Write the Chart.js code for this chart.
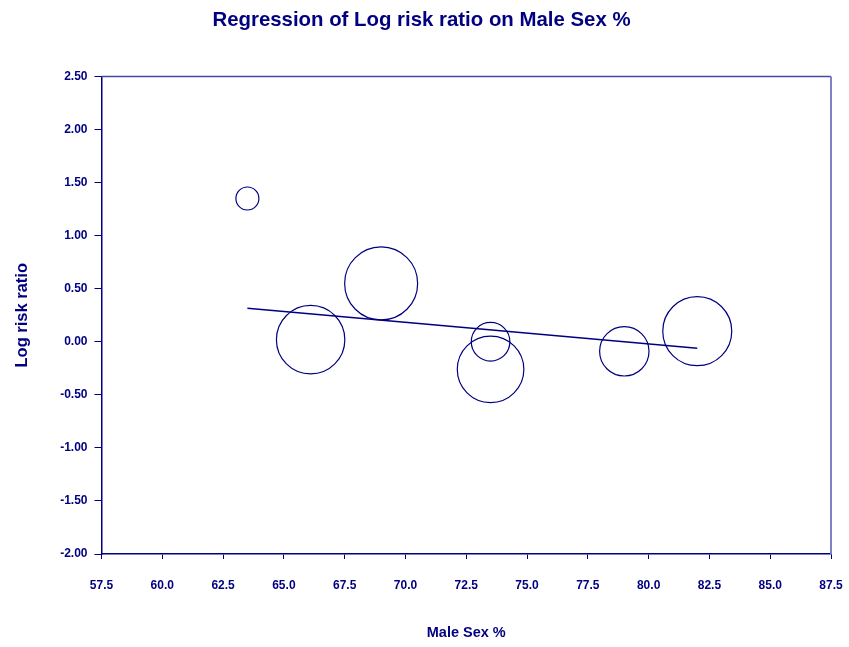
<!DOCTYPE html>
<html>
<head>
<meta charset="utf-8">
<script src="https://cdn.jsdelivr.net/npm/chart.js@4"></script>
<style>
  html, body { margin: 0; padding: 0; background: #ffffff; }
  #wrap { width: 849px; height: 647px; }
</style>
</head>
<body>
<div id="wrap"><canvas id="meta-chart" width="849" height="647"></canvas></div>
<script>
const maleSexPct = [63.5, 66.1, 69.0, 73.5, 73.5, 79.0, 82.0];
const logRiskRatio = [1.35, 0.02, 0.55, 0.0, -0.26, -0.09, 0.10];
const bubbleRadius = [11.5, 34.2, 36.5, 19.3, 33.3, 24.7, 34.5];

const fitX = [63.5, 82.0];
const fitY = [0.315, -0.061];

const navy = '#000080';
const fontFamily = 'Arial, "Liberation Sans", sans-serif';

const frameLines = {
  id: 'frameLines',
  afterDraw(chart) {
    const { ctx, chartArea: a } = chart;
    ctx.save();
    ctx.lineWidth = 1.5;
    ctx.strokeStyle = '#4848a0';
    ctx.beginPath();
    ctx.moveTo(a.left, a.top);
    ctx.lineTo(a.right, a.top);
    ctx.stroke();
    ctx.strokeStyle = '#8080c4';
    ctx.lineWidth = 2;
    ctx.beginPath();
    ctx.moveTo(a.right, a.top);
    ctx.lineTo(a.right, a.bottom);
    ctx.stroke();
    ctx.restore();
  },
};

const bubbles = maleSexPct.map((x, i) => ({ x, y: logRiskRatio[i], r: bubbleRadius[i] }));
const fitLine = fitX.map((x, i) => ({ x, y: fitY[i] }));

new Chart(document.getElementById('meta-chart'), {
  type: 'bubble',
  data: {
    datasets: [
      {
        type: 'line',
        data: fitLine,
        borderColor: navy,
        borderWidth: 1.5,
        pointRadius: 0,
        fill: false,
        tension: 0,
      },
      {
        data: bubbles,
        borderColor: navy,
        borderWidth: 1.2,
        backgroundColor: 'rgba(0,0,0,0)',
      },
    ],
  },
  options: {
    responsive: false,
    animation: false,
    layout: { autoPadding: false, padding: { left: 12, right: 18, top: 0, bottom: 0 } },
    plugins: {
      legend: { display: false },
      tooltip: { enabled: false },
      title: {
        display: true,
        text: 'Regression of Log risk ratio on Male Sex %',
        color: navy,
        font: { family: fontFamily, size: 20.4, weight: 'bold' },
        padding: { top: 8, bottom: 44 },
      },
    },
    scales: {
      x: {
        type: 'linear',
        min: 57.5,
        max: 87.5,
        afterFit: (scale) => {
          scale.height = 93;
          scale.paddingLeft = 0;
          scale.paddingRight = 0;
        },
        ticks: {
          stepSize: 2.5,
          color: navy,
          padding: 19,
          maxRotation: 0,
          font: { family: fontFamily, size: 12, weight: 'bold' },
          callback: (v) => Number(v).toFixed(1),
        },
        grid: { drawOnChartArea: false, drawTicks: true, tickLength: 5, color: navy },
        border: { display: true, color: navy, width: 1.5 },
        title: {
          display: true,
          text: 'Male Sex %',
          color: navy,
          font: { family: fontFamily, size: 14.5, weight: 'bold' },
          padding: { top: 0, bottom: 5 },
        },
      },
      y: {
        type: 'linear',
        min: -2,
        max: 2.5,
        afterFit: (scale) => {
          scale.width = 89.5;
          scale.paddingTop = 0;
          scale.paddingBottom = 0;
        },
        ticks: {
          stepSize: 0.5,
          color: navy,
          padding: 7,
          font: { family: fontFamily, size: 12, weight: 'bold' },
          callback: (v) => Number(v).toFixed(2),
        },
        grid: { drawOnChartArea: false, drawTicks: true, tickLength: 7, color: navy },
        border: { display: true, color: navy, width: 1.5 },
        title: {
          display: true,
          text: 'Log risk ratio',
          color: navy,
          font: { family: fontFamily, size: 16.5, weight: 'bold', lineHeight: 1 },
          padding: { top: 2, bottom: 0 },
        },
      },
    },
  },
  plugins: [frameLines],
});
</script>
</body>
</html>
